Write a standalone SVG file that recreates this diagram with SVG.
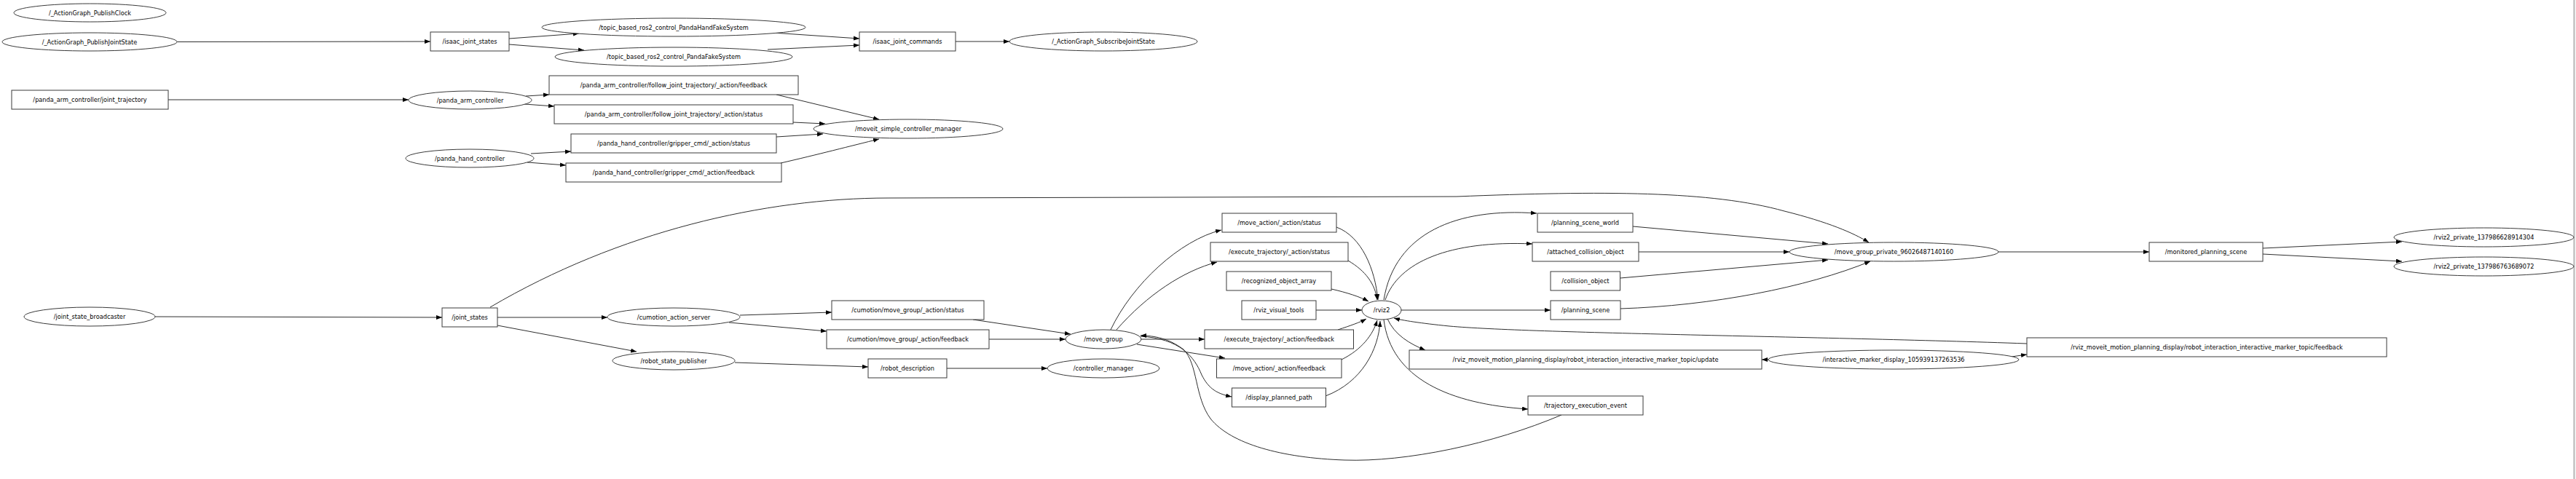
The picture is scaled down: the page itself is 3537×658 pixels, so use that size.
<svg xmlns="http://www.w3.org/2000/svg" width="3537" height="658" viewBox="0 0 3537 658">
<style>
.nd rect,.nd ellipse{fill:#ffffff;stroke:#3a3a3a;stroke-width:1}
.e{fill:none;stroke:#2e2e2e;stroke-width:1;marker-end:url(#ah)}
.t{font-family:"DejaVu Sans","Liberation Sans",sans-serif;font-size:9.3px;fill:#000;text-anchor:middle}
</style>
<defs>
<marker id="ah" markerUnits="userSpaceOnUse" markerWidth="9" markerHeight="7" refX="8" refY="3" orient="auto">
<path d="M0,0 L8,3 L0,6 z" fill="#000"/>
</marker>
</defs>
<rect x="0" y="0" width="3537" height="658" fill="#ffffff"/>
<rect x="3533.6" y="0" width="1.6" height="658" fill="#a8a8a8"/>
<rect x="3535.2" y="0" width="1.8" height="658" fill="#eeeeee"/>

<g id="edges">
<path class="e" d="M243,57.5 L591,57"/>
<path class="e" d="M699,53 L795,46"/>
<path class="e" d="M699,61 L802,69"/>
<path class="e" d="M1061,45 L1180,53"/>
<path class="e" d="M1054,68 L1180,62"/>
<path class="e" d="M1312,57 L1386,57"/>
<path class="e" d="M231,137 L561,137"/>
<path class="e" d="M722,132 L754,130"/>
<path class="e" d="M720,143 L761,146"/>
<path class="e" d="M729,211 L784,208"/>
<path class="e" d="M724,223 L777,227"/>
<path class="e" d="M1066,130 L1207,164"/>
<path class="e" d="M1089,168 L1133,170"/>
<path class="e" d="M1066,188 L1130,184"/>
<path class="e" d="M1072,224 C1120,213 1170,200 1207,191"/>
<path class="e" d="M213,435 L607,436"/>
<path class="e" d="M683,436 L834,436"/>
<path class="e" d="M683,447 L874,483"/>
<path class="e" d="M673,422 C850,318 1050,272 1220,272 L2000,270 C2200,262 2350,262 2450,290 C2510,305 2545,320 2566,333"/>
<path class="e" d="M1016,433 L1142,429"/>
<path class="e" d="M1001,443 L1135,455"/>
<path class="e" d="M1009,498 L1192,504"/>
<path class="e" d="M1336,439 L1470,459"/>
<path class="e" d="M1358,466 L1463,466"/>
<path class="e" d="M1300,506 L1438,506"/>
<path class="e" d="M1525,453 C1555,390 1620,330 1677,316"/>
<path class="e" d="M1533,453 C1575,405 1625,372 1671,360"/>
<path class="e" d="M1566.5,466 L1654,466"/>
<path class="e" d="M1561,473 L1682,492"/>
<path class="e" d="M1566,462 C1620,465 1640,490 1650,515 C1660,535 1672,541 1691,545"/>
<path class="e" d="M2144,570 C2050,610 1930,635 1846,632 C1760,629 1690,610 1662,575 C1640,545 1645,500 1625,480 C1605,465 1585,461 1566,461"/>
<path class="e" d="M1835,312 C1870,325 1888,370 1892,412"/>
<path class="e" d="M1851,358 C1875,372 1888,390 1891,412"/>
<path class="e" d="M1828,397 C1850,402 1868,408 1879,414"/>
<path class="e" d="M1807,426 L1870,426"/>
<path class="e" d="M1837,453 C1855,447 1867,443 1876,438"/>
<path class="e" d="M1842,494 C1870,480 1885,460 1891,440"/>
<path class="e" d="M1820,544 C1870,525 1893,480 1895,441"/>
<path class="e" d="M1900,412 C1915,320 2000,285 2110,293"/>
<path class="e" d="M1902,412 C1920,360 1990,330 2104,335"/>
<path class="e" d="M1924,426 L2129,426"/>
<path class="e" d="M2783,472 C2500,462 2100,458 1990,448 C1950,444 1925,440 1914,437"/>
<path class="e" d="M1905,438 C1915,460 1935,472 1957,481"/>
<path class="e" d="M1900,439 C1910,520 1990,555 2098,562"/>
<path class="e" d="M2432,494 L2419,494"/>
<path class="e" d="M2762,490 L2783,487"/>
<path class="e" d="M2242,311 L2510,335"/>
<path class="e" d="M2250,346 L2457,346"/>
<path class="e" d="M2224.5,382 L2510,357"/>
<path class="e" d="M2225,424 C2350,420 2480,395 2568,359"/>
<path class="e" d="M2744,346 L2951,346"/>
<path class="e" d="M3107,341 L3298,332"/>
<path class="e" d="M3107,349 L3298,359"/>
</g>

<g id="n_publishclock" class="nd"><ellipse cx="123.5" cy="17.5" rx="104.5" ry="12.5"/><text class="t" transform="translate(123.5,17.5) scale(0.88,1)" y="3.3">/_ActionGraph_PublishClock</text></g>
<g id="n_publishjointstate" class="nd"><ellipse cx="123" cy="57.5" rx="120" ry="12.5"/><text class="t" transform="translate(123,57.5) scale(0.88,1)" y="3.3">/_ActionGraph_PublishJointState</text></g>
<g id="n_handfake" class="nd"><ellipse cx="925" cy="37.5" rx="181" ry="12.5"/><text class="t" transform="translate(925,37.5) scale(0.88,1)" y="3.3">/topic_based_ros2_control_PandaHandFakeSystem</text></g>
<g id="n_pandafake" class="nd"><ellipse cx="925" cy="78" rx="163" ry="13"/><text class="t" transform="translate(925,78) scale(0.88,1)" y="3.3">/topic_based_ros2_control_PandaFakeSystem</text></g>
<g id="n_subscribejointstate" class="nd"><ellipse cx="1515" cy="57" rx="129" ry="13"/><text class="t" transform="translate(1515,57) scale(0.88,1)" y="3.3">/_ActionGraph_SubscribeJointState</text></g>
<g id="n_panda_arm_controller" class="nd"><ellipse cx="645.5" cy="137.5" rx="84.5" ry="12.5"/><text class="t" transform="translate(645.5,137.5) scale(0.88,1)" y="3.3">/panda_arm_controller</text></g>
<g id="n_panda_hand_controller" class="nd"><ellipse cx="645" cy="217.5" rx="88" ry="12.5"/><text class="t" transform="translate(645,217.5) scale(0.88,1)" y="3.3">/panda_hand_controller</text></g>
<g id="n_moveit_simple" class="nd"><ellipse cx="1247" cy="177" rx="130" ry="13"/><text class="t" transform="translate(1247,177) scale(0.88,1)" y="3.3">/moveit_simple_controller_manager</text></g>
<g id="n_joint_state_broadcaster" class="nd"><ellipse cx="123" cy="435" rx="90" ry="13"/><text class="t" transform="translate(123,435) scale(0.88,1)" y="3.3">/joint_state_broadcaster</text></g>
<g id="n_cumotion_action_server" class="nd"><ellipse cx="925" cy="435.5" rx="91" ry="12.5"/><text class="t" transform="translate(925,435.5) scale(0.88,1)" y="3.3">/cumotion_action_server</text></g>
<g id="n_robot_state_publisher" class="nd"><ellipse cx="925" cy="495.5" rx="84" ry="12.5"/><text class="t" transform="translate(925,495.5) scale(0.88,1)" y="3.3">/robot_state_publisher</text></g>
<g id="n_move_group" class="nd"><ellipse cx="1515" cy="466" rx="52" ry="13"/><text class="t" transform="translate(1515,466) scale(0.88,1)" y="3.3">/move_group</text></g>
<g id="n_controller_manager" class="nd"><ellipse cx="1515" cy="506" rx="77" ry="13"/><text class="t" transform="translate(1515,506) scale(0.88,1)" y="3.3">/controller_manager</text></g>
<g id="n_rviz2" class="nd"><ellipse cx="1897" cy="426" rx="27" ry="13"/><text class="t" transform="translate(1897,426) scale(0.88,1)" y="3.3">/rviz2</text></g>
<g id="n_move_group_private" class="nd"><ellipse cx="2600.5" cy="346" rx="143.5" ry="13"/><text class="t" transform="translate(2600.5,346) scale(0.88,1)" y="3.3">/move_group_private_96026487140160</text></g>
<g id="n_interactive_marker_display" class="nd"><ellipse cx="2600" cy="494" rx="172" ry="13"/><text class="t" transform="translate(2600,494) scale(0.88,1)" y="3.3">/interactive_marker_display_105939137263536</text></g>
<g id="n_rviz2_private_1" class="nd"><ellipse cx="3410.5" cy="326" rx="123.5" ry="13"/><text class="t" transform="translate(3410.5,326) scale(0.88,1)" y="3.3">/rviz2_private_137986628914304</text></g>
<g id="n_rviz2_private_2" class="nd"><ellipse cx="3410.5" cy="366" rx="123.5" ry="13"/><text class="t" transform="translate(3410.5,366) scale(0.88,1)" y="3.3">/rviz2_private_137986763689072</text></g>

<g id="t_isaac_joint_states" class="nd"><rect x="591" y="44" width="108" height="26"/><text class="t" transform="translate(645,57) scale(0.88,1)" y="3.3">/isaac_joint_states</text></g>
<g id="t_isaac_joint_commands" class="nd"><rect x="1180" y="44" width="132" height="26"/><text class="t" transform="translate(1246,57) scale(0.88,1)" y="3.3">/isaac_joint_commands</text></g>
<g id="t_joint_trajectory" class="nd"><rect x="16" y="124" width="215" height="26"/><text class="t" transform="translate(123.5,137) scale(0.88,1)" y="3.3">/panda_arm_controller/joint_trajectory</text></g>
<g id="t_fjt_feedback" class="nd"><rect x="754" y="104" width="342" height="26"/><text class="t" transform="translate(925,117) scale(0.88,1)" y="3.3">/panda_arm_controller/follow_joint_trajectory/_action/feedback</text></g>
<g id="t_fjt_status" class="nd"><rect x="761" y="144" width="328" height="26"/><text class="t" transform="translate(925,157) scale(0.88,1)" y="3.3">/panda_arm_controller/follow_joint_trajectory/_action/status</text></g>
<g id="t_gripper_status" class="nd"><rect x="784" y="184" width="282" height="26"/><text class="t" transform="translate(925,197) scale(0.88,1)" y="3.3">/panda_hand_controller/gripper_cmd/_action/status</text></g>
<g id="t_gripper_feedback" class="nd"><rect x="777" y="224" width="296" height="26"/><text class="t" transform="translate(925,237) scale(0.88,1)" y="3.3">/panda_hand_controller/gripper_cmd/_action/feedback</text></g>
<g id="t_joint_states" class="nd"><rect x="607" y="423" width="76" height="26"/><text class="t" transform="translate(645,436) scale(0.88,1)" y="3.3">/joint_states</text></g>
<g id="t_cumotion_status" class="nd"><rect x="1142" y="413" width="209" height="26"/><text class="t" transform="translate(1246.5,426) scale(0.88,1)" y="3.3">/cumotion/move_group/_action/status</text></g>
<g id="t_cumotion_feedback" class="nd"><rect x="1135" y="453" width="223" height="26"/><text class="t" transform="translate(1246.5,466) scale(0.88,1)" y="3.3">/cumotion/move_group/_action/feedback</text></g>
<g id="t_robot_description" class="nd"><rect x="1192" y="493" width="108" height="26"/><text class="t" transform="translate(1246,506) scale(0.88,1)" y="3.3">/robot_description</text></g>
<g id="t_move_action_status" class="nd"><rect x="1678" y="293" width="157" height="26"/><text class="t" transform="translate(1756.5,306) scale(0.88,1)" y="3.3">/move_action/_action/status</text></g>
<g id="t_exec_status" class="nd"><rect x="1662" y="333" width="189" height="26"/><text class="t" transform="translate(1756.5,346) scale(0.88,1)" y="3.3">/execute_trajectory/_action/status</text></g>
<g id="t_recognized_object_array" class="nd"><rect x="1684" y="373" width="144" height="26"/><text class="t" transform="translate(1756,386) scale(0.88,1)" y="3.3">/recognized_object_array</text></g>
<g id="t_rviz_visual_tools" class="nd"><rect x="1705" y="413" width="102" height="26"/><text class="t" transform="translate(1756,426) scale(0.88,1)" y="3.3">/rviz_visual_tools</text></g>
<g id="t_exec_feedback" class="nd"><rect x="1654" y="453" width="204.5" height="26"/><text class="t" transform="translate(1756.3,466) scale(0.88,1)" y="3.3">/execute_trajectory/_action/feedback</text></g>
<g id="t_move_action_feedback" class="nd"><rect x="1670.5" y="493" width="171.5" height="26"/><text class="t" transform="translate(1756.3,506) scale(0.88,1)" y="3.3">/move_action/_action/feedback</text></g>
<g id="t_display_planned_path" class="nd"><rect x="1691.5" y="533" width="129" height="26"/><text class="t" transform="translate(1756,546) scale(0.88,1)" y="3.3">/display_planned_path</text></g>
<g id="t_planning_scene_world" class="nd"><rect x="2111" y="293" width="131" height="26"/><text class="t" transform="translate(2176.5,306) scale(0.88,1)" y="3.3">/planning_scene_world</text></g>
<g id="t_attached_collision_object" class="nd"><rect x="2104" y="333" width="146" height="26"/><text class="t" transform="translate(2177,346) scale(0.88,1)" y="3.3">/attached_collision_object</text></g>
<g id="t_collision_object" class="nd"><rect x="2129" y="373" width="95.5" height="26"/><text class="t" transform="translate(2176.8,386) scale(0.88,1)" y="3.3">/collision_object</text></g>
<g id="t_planning_scene" class="nd"><rect x="2129" y="413" width="96" height="26"/><text class="t" transform="translate(2177,426) scale(0.88,1)" y="3.3">/planning_scene</text></g>
<g id="t_marker_update" class="nd"><rect x="1935" y="481" width="484" height="26"/><text class="t" transform="translate(2177,494) scale(0.88,1)" y="3.3">/rviz_moveit_motion_planning_display/robot_interaction_interactive_marker_topic/update</text></g>
<g id="t_trajectory_execution_event" class="nd"><rect x="2098" y="544" width="158" height="26"/><text class="t" transform="translate(2177,557) scale(0.88,1)" y="3.3">/trajectory_execution_event</text></g>
<g id="t_monitored_planning_scene" class="nd"><rect x="2951" y="333" width="156" height="26"/><text class="t" transform="translate(3029,346) scale(0.88,1)" y="3.3">/monitored_planning_scene</text></g>
<g id="t_marker_feedback" class="nd"><rect x="2783" y="464" width="494" height="26"/><text class="t" transform="translate(3030,477) scale(0.88,1)" y="3.3">/rviz_moveit_motion_planning_display/robot_interaction_interactive_marker_topic/feedback</text></g>
</svg>
